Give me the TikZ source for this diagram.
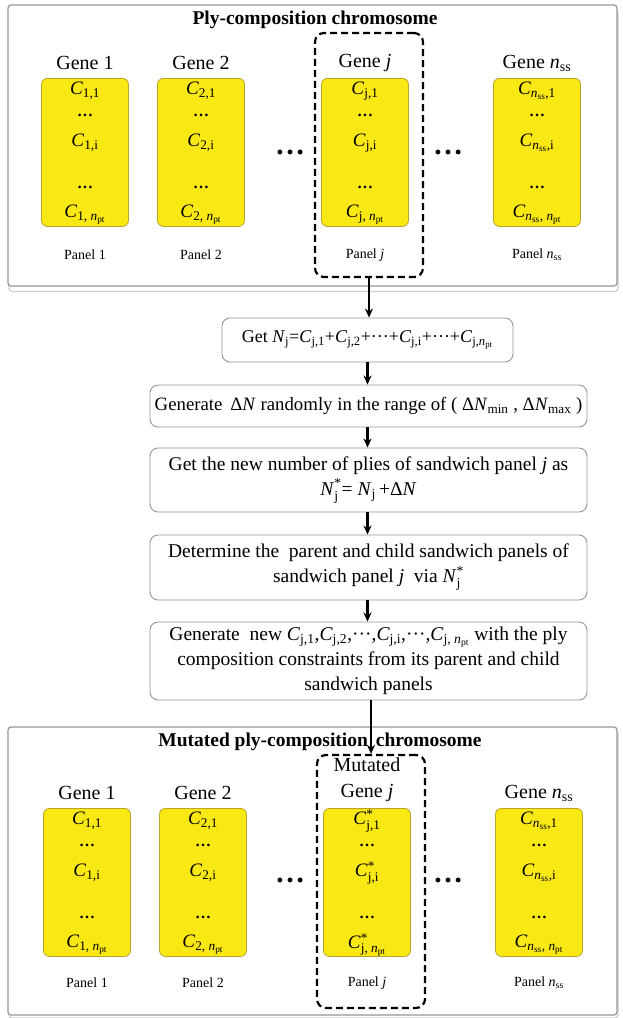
\documentclass[tikz,border=0pt]{standalone}
\usepackage{fontspec}
\setmainfont{Liberation Serif}
\usetikzlibrary{arrows.meta}
\makeatletter
\newcommand{\sbs}[1]{\ensuremath{_{\mbox{\fontsize\sf@size\z@\selectfont #1}}}}
\newcommand{\spsb}[2]{\ensuremath{^{\mbox{\fontsize\sf@size\z@\selectfont #1}}_{\mbox{\fontsize\sf@size\z@\selectfont #2}}}}
\makeatother
\definecolor{geneyellow}{RGB}{250,232,20}
\definecolor{geneborder}{RGB}{185,165,40}
\definecolor{boxgray}{RGB}{150,150,150}
\definecolor{shadowgray}{RGB}{205,205,205}
\newcommand{\genecol}[6]{%
  \node[genebox, anchor=north] (#1) at (#2,#3) {};
  \node[ctext] (#1a) at ([yshift=-13pt]#1.north) {#4};
  \node[cdots] (#1b) at ([yshift=-37pt]#1.north) {…};
  \node[ctext] (#1c) at ([yshift=-65pt]#1.north) {#5};
  \node[cdots] (#1d) at ([yshift=-109pt]#1.north) {…};
  \node[ctext] (#1e) at ([yshift=-137pt]#1.north) {#6};
}
\tikzset{
  outerbox/.style={draw=boxgray, fill=white, line width=1.2pt, rounded corners=3pt, minimum width=609pt, inner sep=0pt},
  shadowbox/.style={draw=shadowgray, line width=1.2pt, rounded corners=3pt, minimum width=609pt, inner sep=0pt},
  genebox/.style={draw=geneborder, fill=geneyellow, rounded corners=6pt, line width=0.8pt, minimum width=87pt, minimum height=148pt, inner sep=0pt},
  dashbox/.style={draw=black, dash pattern=on 7pt off 4pt, line width=2.2pt, rounded corners=9pt, minimum width=108pt, inner sep=0pt},
  flowbox/.style={draw=boxgray, line width=0.9pt, rounded corners=8pt, align=center, inner sep=0pt, font=\fontsize{19.5}{25}\selectfont},
  arr/.style={-{Stealth[length=9pt,width=8pt]}, line width=2.4pt},
  ctext/.style={inner sep=0pt, font=\fontsize{19}{22}\selectfont},
  cdots/.style={inner sep=0pt, font=\fontsize{16}{18}\selectfont\bfseries},
  genelabel/.style={inner sep=0pt, align=center, font=\fontsize{20}{26}\selectfont},
  panellabel/.style={inner sep=0pt, font=\fontsize{14}{16}\selectfont},
  titlelabel/.style={inner sep=0pt, font=\fontsize{19.5}{22}\selectfont\bfseries},
  gap/.style={inner sep=0pt, font=\fontsize{30}{30}\selectfont\bfseries},
}
\begin{document}
\begin{tikzpicture}[x=1pt,y=-1pt]
\useasboundingbox (0,0) rectangle (622,1018);
% ---------- top chromosome ----------
\node[shadowbox, minimum height=281pt] (topshadow) at (313.5,151) {};
\node[outerbox, minimum height=281pt] (topbox) at (312.5,145.5) {};
\node[titlelabel] (toptitle) at (315,20) {Ply-composition chromosome};
\node[dashbox, minimum height=244pt] (topdash) at (369,155) {};
\node[genelabel] (tg1) at (85,63) {Gene 1};
\node[genelabel] (tg2) at (201,63) {Gene 2};
\node[genelabel] (tgj) at (365,63) {Gene \textit{j}};
\node[genelabel] (tgn) at (537,63) {Gene \textit{n}\sbs{ss}};
\genecol{t1}{85}{78}{\textit{C}\sbs{1,1}}{\textit{C}\sbs{1,i}}{\textit{C}\sbs{1, \textit{n}\sbs{pt}}}
\genecol{t2}{201}{78}{\textit{C}\sbs{2,1}}{\textit{C}\sbs{2,i}}{\textit{C}\sbs{2, \textit{n}\sbs{pt}}}
\genecol{tj}{365}{78}{\textit{C}\sbs{j,1}}{\textit{C}\sbs{j,i}}{\textit{C}\sbs{j, \textit{n}\sbs{pt}}}
\genecol{tn}{537}{78}{\textit{C}\sbs{\textit{n}\sbs{ss},1}}{\textit{C}\sbs{\textit{n}\sbs{ss},i}}{\textit{C}\sbs{\textit{n}\sbs{ss}, \textit{n}\sbs{pt}}}
\node[panellabel] (tp1) at (85,255) {Panel 1};
\node[panellabel] (tp2) at (201,255) {Panel 2};
\node[panellabel] (tpj) at (365,255) {Panel \textit{j}};
\node[panellabel] (tpn) at (537,255) {Panel \textit{n}\sbs{ss}};
\node[gap] (tgapa) at (290,152) {…};
\node[gap] (tgapb) at (448,152) {…};
% ---------- flow ----------
\node[flowbox, font=\fontsize{18}{24}\selectfont, minimum width=291pt, minimum height=44pt] (f1) at (367.5,340)
  {Get \textit{N}\sbs{j}=\textit{C}\sbs{j,1}+\textit{C}\sbs{j,2}+···+\textit{C}\sbs{j,i}+···+\textit{C}\sbs{j,\textit{n}\sbs{pt}}};
\node[flowbox, font=\fontsize{18.8}{24}\selectfont, minimum width=437pt, minimum height=42pt] (f2) at (368.5,406)
  {Generate \,Δ\textit{N} randomly in the range of ( Δ\textit{N}\sbs{min} , Δ\textit{N}\sbs{max} )};
\node[flowbox, minimum width=437pt, minimum height=64pt] (f3) at (368.5,480)
  {Get the new number of plies of sandwich panel \textit{j} as\\ \textit{N}\spsb{*}{j}= \textit{N}\sbs{j}\,+Δ\textit{N}};
\node[flowbox, minimum width=437pt, minimum height=65pt] (f4) at (368.5,567.5)
  {Determine the \ parent and child sandwich panels of\\ sandwich panel \textit{j} \ via \textit{N}\spsb{*}{j}};
\node[flowbox, minimum width=437pt, minimum height=78pt] (f5) at (368.5,661)
  {Generate \ new \textit{C}\sbs{j,1},\textit{C}\sbs{j,2},···,\textit{C}\sbs{j,i},···,\textit{C}\sbs{j, \textit{n}\sbs{pt}} with the ply\\ composition constraints from its parent and child\\ sandwich panels};
% ---------- bottom chromosome ----------
\node[shadowbox, minimum height=288pt] (botshadow) at (313.5,874) {};
\node[outerbox, minimum height=288pt] (botbox) at (312.5,871) {};
\node[titlelabel] (bottitle) at (320,742) {Mutated ply-composition\hspace{3pt} chromosome};
\node[dashbox, minimum height=253pt] (botdash) at (371,881.5) {};
\node[genelabel] (bg1) at (87,793) {Gene 1};
\node[genelabel] (bg2) at (203,793) {Gene 2};
\node[genelabel] (bgj) at (367,780) {Mutated\\Gene \textit{j}};
\node[genelabel] (bgn) at (539,793) {Gene \textit{n}\sbs{ss}};
\genecol{b1}{87}{808}{\textit{C}\sbs{1,1}}{\textit{C}\sbs{1,i}}{\textit{C}\sbs{1, \textit{n}\sbs{pt}}}
\genecol{b2}{203}{808}{\textit{C}\sbs{2,1}}{\textit{C}\sbs{2,i}}{\textit{C}\sbs{2, \textit{n}\sbs{pt}}}
\genecol{bj}{367}{808}{\textit{C}\spsb{*}{j,1}}{\textit{C}\spsb{*}{j,i}}{\textit{C}\spsb{*}{j, \textit{n}\sbs{pt}}}
\genecol{bn}{539}{808}{\textit{C}\sbs{\textit{n}\sbs{ss},1}}{\textit{C}\sbs{\textit{n}\sbs{ss},i}}{\textit{C}\sbs{\textit{n}\sbs{ss}, \textit{n}\sbs{pt}}}
\node[panellabel] (bp1) at (87,983) {Panel 1};
\node[panellabel] (bp2) at (203,983) {Panel 2};
\node[panellabel] (bpj) at (367,983) {Panel \textit{j}};
\node[panellabel] (bpn) at (539,983) {Panel \textit{n}\sbs{ss}};
\node[gap] (bgapa) at (290,880) {…};
\node[gap] (bgapb) at (448,880) {…};
% ---------- arrows ----------
\draw[arr] (topdash.south) -- (topdash.south |- f1.north);
\draw[arr] (f1.south) -- (f1.south |- f2.north);
\draw[arr] (f2.south -| f1.south) -- (f1.south |- f3.north);
\draw[arr] (f3.south -| f1.south) -- (f1.south |- f4.north);
\draw[arr] (f4.south -| f1.south) -- (f1.south |- f5.north);
\draw[arr] (f5.south -| botdash.north) -- (botdash.north);
\end{tikzpicture}
\end{document}
